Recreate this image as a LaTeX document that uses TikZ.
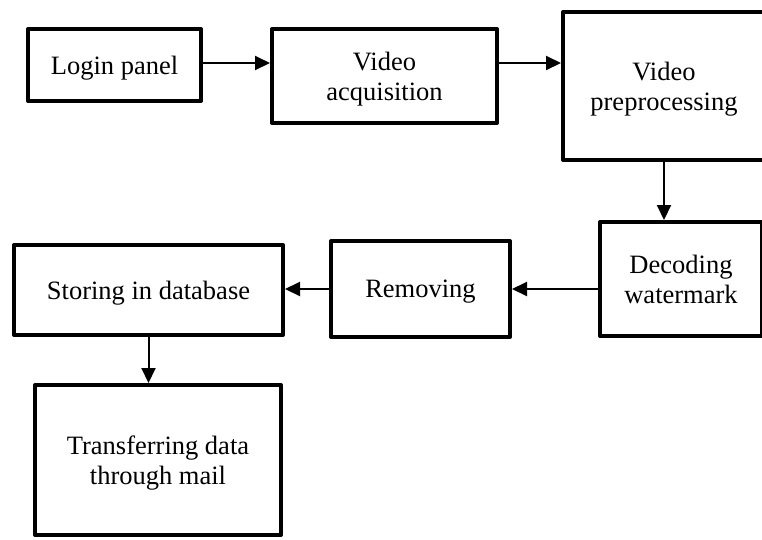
\documentclass[tikz,border=0pt]{standalone}
\usepackage{fontspec}
\setmainfont{Liberation Serif}
\usepackage{tikz}
\usetikzlibrary{arrows.meta, positioning}

\begin{document}
\begin{tikzpicture}[x=1pt, y=-1pt, >={Triangle[length=15pt, width=14pt]},
  font=\fontsize{26.5}{30}\selectfont,
  block/.style={draw, line width=4pt, line join=round, align=center, inner sep=0pt, text depth=0pt},
  flow/.style={->, line width=2pt},
  ]
  \useasboundingbox (0,0) rectangle (762,539);
  \clip (0,0) rectangle (762,539);
  % Top row
  \node[block, minimum width=173pt, minimum height=72pt] (login) at (114.5,65) {Login panel};
  \node[block, minimum width=225pt, minimum height=94pt] (acq) at (384.5,76) {Video\\acquisition};
  \node[block, minimum width=202pt, minimum height=148pt] (prep) at (664,86) {Video\\preprocessing};
  % Middle row
  \node[block, minimum width=162pt, minimum height=114pt] (decode) at (681,279) {Decoding\\watermark};
  \node[block, minimum width=179pt, minimum height=96pt] (remove) at (420.5,289) {Removing};
  \node[block, minimum width=269pt, minimum height=90pt] (store) at (148.5,290) {Storing in database};
  % Bottom
  \node[block, minimum width=246pt, minimum height=150pt] (mail) at (158,460) {Transferring data\\through mail};

  % Arrows
  \draw[flow] ([yshift=2pt]login.east) -- ([yshift=2pt]login.east -| acq.west);
  \draw[flow] ([yshift=2pt]login.east -| acq.east) -- ([yshift=2pt]login.east -| prep.west);
  \draw[flow] (prep.south) -- (prep.south |- decode.north);
  \draw[flow] (decode.west |- remove.east) -- (remove.east);
  \draw[flow] (remove.west) -- (remove.west -| store.east);
  \draw[flow] (store.south) -- (store.south |- mail.north);
\end{tikzpicture}
\end{document}
